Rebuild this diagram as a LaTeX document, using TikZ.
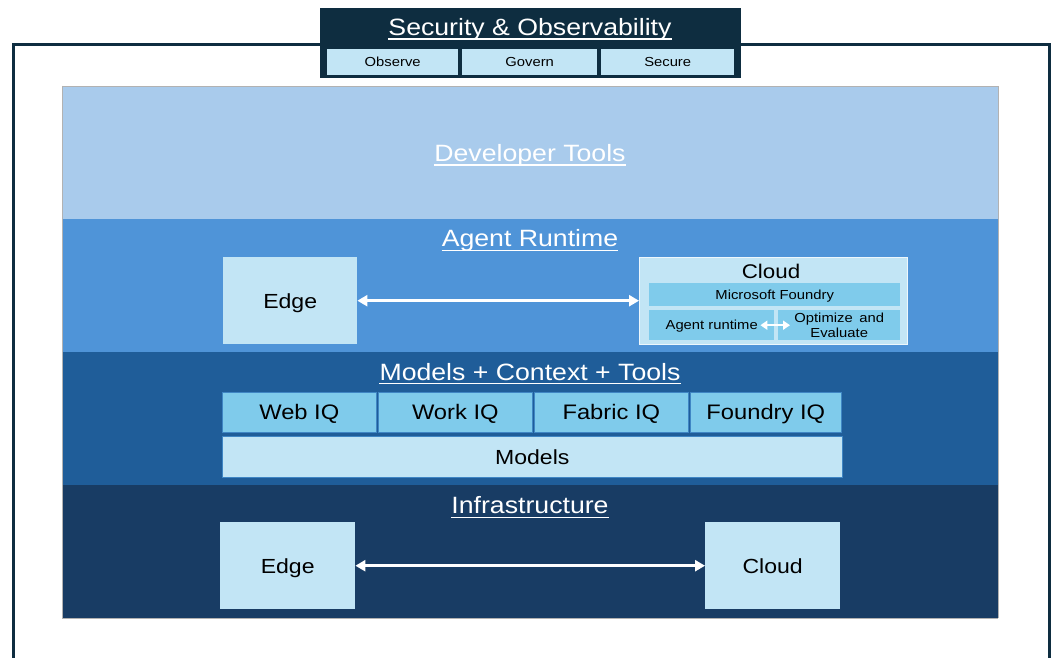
\documentclass[tikz,border=0pt]{standalone}
\usepackage{fontspec}
\setmainfont[FakeStretch=1.13]{Liberation Sans}
\usetikzlibrary{arrows.meta}
\definecolor{cdark}{HTML}{0E2D40}
\definecolor{cdev}{HTML}{A9CBEC}
\definecolor{crun}{HTML}{4F94D8}
\definecolor{cmod}{HTML}{1F5D99}
\definecolor{cinf}{HTML}{183C64}
\definecolor{clight}{HTML}{C2E5F5}
\definecolor{cmid}{HTML}{7FCBEB}
\definecolor{cmidline}{HTML}{3F86C4}
\tikzset{
  capc/.style={text height=#1, text depth=0pt},
  band/.style={draw=none, fill=#1, minimum width=936, minimum height=133, inner sep=0, anchor=north west},
  lbox/.style={fill=clight, inner sep=0, anchor=north west, font=\fontsize{20.4}{24}\selectfont, capc=14.6pt},
  ibox/.style={fill=cmid, draw=cmidline, line width=0.6, inner sep=0, anchor=north west, font=\fontsize{21}{24}\selectfont, capc=15pt},
  sbox/.style={fill=clight, inner sep=0, anchor=north west, font=\fontsize{13.1}{16}\selectfont, capc=9.4pt},
  fbox/.style={fill=cmid, inner sep=0, anchor=north west, font=\fontsize{13.1}{16}\selectfont, capc=9.4pt},
  ttl/.style={text=white, inner sep=0, anchor=base, font=\fontsize{23.6}{28}\selectfont},
  uline/.style={draw=white, line width=1.3},
  wdarrow/.style={draw=white, line width=2.6, {Triangle[width=11,length=10]}-{Triangle[width=11,length=10]}},
}
\begin{document}
\begin{tikzpicture}[x=1pt,y=-1pt]
\useasboundingbox[fill=white] (0,0) rectangle (1052,658);
% outer frame
\draw[cdark, line width=3] (13,670) -- (13,44.5) -- (1049,44.5) -- (1049,670);
% Security & Observability
\node[fill=cdark, minimum width=421, minimum height=70, inner sep=0, anchor=north west] (sec) at (320,8) {};
\node[ttl] (sect) at (530,35.5) {Security \& Observability};
\draw[uline] ([yshift=-3.5]sect.base west) -- ([yshift=-3.5]sect.base east);
\node[sbox, minimum width=131, minimum height=26] (obs) at (327,49) {Observe};
\node[sbox, minimum width=135, minimum height=26] (gov) at (462,49) {Govern};
\node[sbox, minimum width=133, minimum height=26] (secu) at (601,49) {Secure};
% bands
\node[band=cdev] (dev) at (62,86) {};
\node[band=crun] (run) at (62,219) {};
\node[band=cmod] (mod) at (62,352) {};
\node[band=cinf] (inf) at (62,485) {};
\draw[gray!60, line width=0.6] (dev.north west) -- (dev.north east) -- (inf.south east);
\draw[gray!60, line width=0.6] (dev.north west) -- (inf.south west) -- (inf.south east);
% Developer Tools
\node[ttl] (devt) at (530,161.5) {Developer Tools};
\draw[uline] ([yshift=-3.5]devt.base west) -- ([yshift=-3.5]devt.base east);
% Agent Runtime
\node[ttl] (runt) at (530,246.7) {Agent Runtime};
\draw[uline] ([yshift=-3.8]runt.base west) -- ([yshift=-3.8]runt.base east);
\node[lbox, minimum width=134, minimum height=87] (edge1) at (223,257) {Edge};
\node[fill=clight, draw=white!70!clight, line width=0.6, minimum width=268, minimum height=87, inner sep=0, anchor=north west] (cloud1) at (639,257) {};
\node[inner sep=0, anchor=base, font=\fontsize{19.8}{24}\selectfont] (cloud1t) at (771,278.5) {Cloud};
\node[fbox, minimum width=251, minimum height=23] (msf) at (649,283) {Microsoft Foundry};
\node[fbox, minimum width=125, minimum height=30] (art) at (649,310) {Agent runtime};
\node[fill=cmid, inner sep=0, anchor=north west, minimum width=122, minimum height=30, font=\fontsize{13.1}{14.5}\selectfont, align=center] (opt) at (778,310) {Optimize\enspace and\\Evaluate};
\draw[wdarrow] (edge1.east) -- (cloud1.west |- edge1.east);
\draw[draw=white, line width=2.4, {Triangle[width=9,length=7]}-{Triangle[width=9,length=7]}] ([xshift=-14]art.east) -- ([xshift=12]opt.west);
% Models + Context + Tools
\node[ttl] (modt) at (530,380) {Models + Context + Tools};
\draw[uline] ([yshift=-3.8]modt.base west) -- ([yshift=-3.8]modt.base east);
\node[ibox, minimum width=154, minimum height=40] (web) at (222,392) {Web IQ};
\node[ibox, minimum width=154, minimum height=40] (work) at (378,392) {Work IQ};
\node[ibox, minimum width=154, minimum height=40] (fab) at (534,392) {Fabric IQ};
\node[ibox, minimum width=151, minimum height=40] (fou) at (690,392) {Foundry IQ};
\node[lbox, draw=cmidline, line width=0.6, minimum width=620, minimum height=41] (models) at (222,436) {Models};
% Infrastructure
\node[ttl] (inft) at (530,513.5) {Infrastructure};
\draw[uline] ([yshift=-3.8]inft.base west) -- ([yshift=-3.8]inft.base east);
\node[lbox, minimum width=135, minimum height=87] (edge2) at (220,522) {Edge};
\node[lbox, minimum width=135, minimum height=87] (cloud2) at (705,522) {Cloud};
\draw[wdarrow] (edge2.east) -- (cloud2.west);
\end{tikzpicture}
\end{document}
